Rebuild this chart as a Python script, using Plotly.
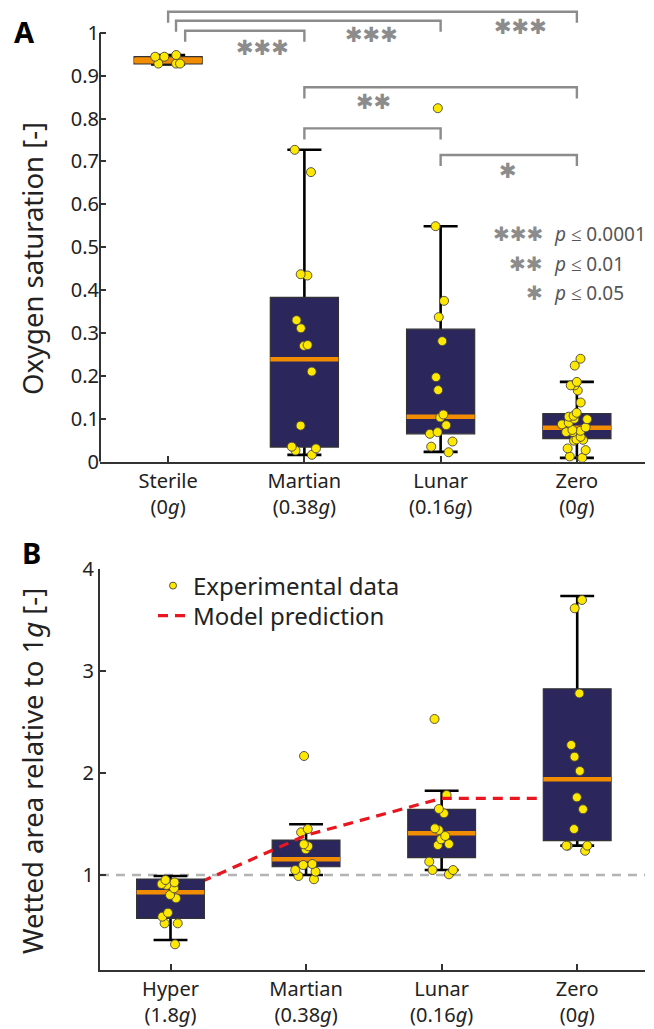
import plotly.graph_objects as go

W, H = 654, 1029

# ---------------- Panel A data (oxygen saturation) ----------------
a_labels = ["Sterile<br>(0<i>g</i>)", "Martian<br>(0.38<i>g</i>)",
            "Lunar<br>(0.16<i>g</i>)", "Zero<br>(0<i>g</i>)"]
a_positions = [1, 2, 3, 4]
a_sterile = [0.944, 0.944, 0.948, 0.928, 0.928, 0.928]
a_martian = [0.727, 0.675, 0.437, 0.434, 0.330, 0.311, 0.272, 0.270, 0.210,
             0.084, 0.035, 0.031, 0.026, 0.016]
a_lunar = [0.824, 0.549, 0.375, 0.337, 0.281, 0.197, 0.167, 0.110, 0.103,
           0.085, 0.069, 0.065, 0.047, 0.035, 0.022]
a_zero = [0.240, 0.224, 0.186, 0.178, 0.178, 0.166, 0.138, 0.114, 0.107,
          0.105, 0.099, 0.100, 0.091, 0.087, 0.080, 0.074, 0.072, 0.069,
          0.069, 0.058, 0.052, 0.051, 0.049, 0.031, 0.027, 0.012, 0.009]
a_lower = [0.926, 0.016, 0.023, 0.009]
a_q1 = [0.927, 0.034, 0.065, 0.054]
a_median = [0.935, 0.239, 0.105, 0.079]
a_q3 = [0.944, 0.383, 0.309, 0.112]
a_upper = [0.948, 0.727, 0.549, 0.186]
a_ticks = [0, 0.1, 0.2, 0.3, 0.4, 0.5, 0.6, 0.7, 0.8, 0.9, 1]
a_ticktext = ["0", "0.1", "0.2", "0.3", "0.4", "0.5", "0.6", "0.7", "0.8", "0.9", "1"]

# significance comparisons: (left, right, label)
sig_pairs = [(1, 4, "✱✱✱"), (1, 3, "✱✱✱"), (1, 2, "✱✱✱"),
             (2, 4, "✱✱"), (2, 3, ""), (3, 4, "✱")]
sig_legend = [("✱✱✱", "<i>p</i> ≤ 0.0001"), ("✱✱", "<i>p</i> ≤ 0.01"), ("✱", "<i>p</i> ≤ 0.05")]

# ---------------- Panel B data (wetted area) ----------------
b_labels = ["Hyper<br>(1.8<i>g</i>)", "Martian<br>(0.38<i>g</i>)",
            "Lunar<br>(0.16<i>g</i>)", "Zero<br>(0<i>g</i>)"]
b_positions = [1, 2, 3, 4]
b_hyper = [0.951, 0.928, 0.912, 0.902, 0.869, 0.804, 0.771, 0.630, 0.591,
           0.526, 0.526, 0.320]
b_martian = [2.168, 1.451, 1.419, 1.301, 1.282, 1.252, 1.108, 1.098, 1.049,
             1.033, 0.990, 0.958]
b_lunar = [2.531, 1.785, 1.648, 1.605, 1.458, 1.442, 1.383, 1.350, 1.304,
           1.294, 1.131, 1.049, 1.049, 1.007]
b_zero = [3.699, 3.617, 2.782, 2.276, 2.161, 2.021, 1.762, 1.645, 1.451,
          1.288, 1.288, 1.288, 1.238]
b_lower = [0.362, 1.000, 1.049, 1.288]
b_q1 = [0.575, 1.081, 1.170, 1.337]
b_median = [0.830, 1.154, 1.409, 1.939]
b_q3 = [0.961, 1.343, 1.645, 2.828]
b_upper = [0.990, 1.498, 1.827, 3.738]
b_model = [0.80, 1.39, 1.753, 1.752]
b_reference = 1.0
b_ticks = [1, 2, 3, 4]

# ---------------- styles ----------------
NAVY = "#2b275c"
ORANGE = "#f28c00"
YELLOW = "#ffe800"
GRAY = "#8c8c8c"
AX = "#333333"
TXT = "#222222"
FONT = "Noto Sans"
BOXW = 0.5


def px_x(p):
    return p / W


def px_y(p):
    return 1 - p / H


fig = go.Figure()


def add_box(xpos, lo, q1, med, q3, hi, pts, fill, xa, ya):
    common = dict(x=[xpos], width=BOXW, boxpoints=False, hoverinfo="skip",
                  showlegend=False, xaxis=xa, yaxis=ya)
    # whiskers with caps
    fig.add_trace(go.Box(q1=[med], median=[med], q3=[med], lowerfence=[lo],
                         upperfence=[hi], whiskerwidth=0.5,
                         line=dict(color="black", width=2.6),
                         fillcolor="rgba(0,0,0,0)", **common))
    # box body
    fig.add_trace(go.Box(q1=[q1], median=[med], q3=[q3], lowerfence=[q1],
                         upperfence=[q3], whiskerwidth=0,
                         line=dict(color=AX, width=1.2),
                         fillcolor=fill, **common))
    # median
    fig.add_trace(go.Box(q1=[med], median=[med], q3=[med], lowerfence=[med],
                         upperfence=[med], whiskerwidth=0,
                         line=dict(color=ORANGE, width=4.5),
                         fillcolor="rgba(0,0,0,0)", **common))
    # sample points (library jitter)
    fig.add_trace(go.Box(x=[xpos] * len(pts), y=pts, boxpoints="all",
                         jitter=0.45, pointpos=0, width=BOXW,
                         line=dict(color="rgba(0,0,0,0)", width=0),
                         fillcolor="rgba(0,0,0,0)",
                         marker=dict(color=YELLOW, size=9,
                                     line=dict(color="#444444", width=0.9)),
                         hoverinfo="skip", showlegend=False,
                         xaxis=xa, yaxis=ya))


# Panel A
a_samples = [a_sterile, a_martian, a_lunar, a_zero]
for i, pos in enumerate(a_positions):
    fill = ORANGE if i == 0 else NAVY
    add_box(pos, a_lower[i], a_q1[i], a_median[i], a_q3[i], a_upper[i],
            a_samples[i], fill, "x", "y")

# Panel B: Martian & Lunar under model line, Hyper & Zero on overlay above it
b_samples = [b_hyper, b_martian, b_lunar, b_zero]
for i, pos in enumerate(b_positions):
    xa, ya = ("x3", "y3") if i in (0, 3) else ("x2", "y2")
    add_box(pos, b_lower[i], b_q1[i], b_median[i], b_q3[i], b_upper[i],
            b_samples[i], NAVY, xa, ya)

fig.add_trace(go.Scatter(x=b_positions, y=b_model, mode="lines",
                         name="Model prediction",
                         line=dict(color="#e8161e", width=3.2, dash="10px,7px"),
                         xaxis="x2", yaxis="y2", legend="legend2",
                         hoverinfo="skip"))
fig.add_trace(go.Scatter(x=[None], y=[None], mode="markers",
                         name="Experimental data",
                         marker=dict(color=YELLOW, size=7,
                                     line=dict(color="#444444", width=0.9)),
                         xaxis="x2", yaxis="y2", legend="legend",
                         hoverinfo="skip"))

# ---------------- shapes ----------------
shapes = []
# panel A y-axis line only up to 1
shapes.append(dict(type="line", xref="x domain", yref="y", x0=0, x1=0,
                   y0=0, y1=1, line=dict(color=AX, width=2)))
# brackets
bracket_levels = [1.049, 1.028, 1.0047, 0.8727, 0.777, 0.715]
bracket_left_offset = [0.0, 0.058, 0.125, 0.0, 0.0, 0.0]
DROP = 0.026
for (l, r, _), top, off in zip(sig_pairs, bracket_levels, bracket_left_offset):
    xs = l + off
    shapes.append(dict(type="path", xref="x", yref="y",
                       path=f"M {xs},{top - DROP} L {xs},{top} L {r},{top} L {r},{top - DROP}",
                       line=dict(color=GRAY, width=2.4)))
# panel B reference line at 1
shapes.append(dict(type="line", xref="x2 domain", yref="y2", x0=0, x1=1,
                   y0=b_reference, y1=b_reference, layer="below",
                   line=dict(color="#b3b3b3", width=2.4, dash="9px,7px")))

# ---------------- annotations ----------------
ann = []
star_pos = [(3.588, 1.0126), (2.496, 0.9946), (1.696, 0.965),
            (2.504, 0.839), None, (3.495, 0.678)]
for (l, r, lab), sp in zip(sig_pairs, star_pos):
    if lab and sp:
        ann.append(dict(x=sp[0], y=sp[1], xref="x", yref="y", text=lab,
                        showarrow=False, xanchor="center", yanchor="middle",
                        font=dict(family="DejaVu Sans", size=21, color=GRAY)))
leg_rows = [234, 264, 293]
for (st, tx), yy in zip(sig_legend, leg_rows):
    ann.append(dict(x=px_x(545), y=px_y(yy), xref="paper", yref="paper", text=st,
                    showarrow=False, xanchor="right", yanchor="middle",
                    font=dict(family="DejaVu Sans", size=20, color=GRAY)))
    ann.append(dict(x=px_x(552), y=px_y(yy), xref="paper", yref="paper", text=tx,
                    showarrow=False, xanchor="left", yanchor="middle",
                    font=dict(family=FONT, size=19, color="#555555")))
# axis titles
ann.append(dict(x=px_x(32), y=px_y(259), xref="paper", yref="paper",
                text="Oxygen saturation [-]", textangle=-90, showarrow=False,
                xanchor="center", yanchor="middle",
                font=dict(family=FONT, size=27.5, color=TXT)))
ann.append(dict(x=px_x(32), y=px_y(771), xref="paper", yref="paper",
                text="Wetted area relative to 1<i>g</i> [-]", textangle=-90,
                showarrow=False, xanchor="center", yanchor="middle",
                font=dict(family=FONT, size=27.5, color=TXT)))
# panel letters
ann.append(dict(x=px_x(24.5), y=px_y(31), xref="paper", yref="paper",
                text="<b>A</b>", showarrow=False, xanchor="center", yanchor="middle",
                font=dict(family=FONT, size=29, color="black")))
ann.append(dict(x=px_x(31), y=px_y(552), xref="paper", yref="paper",
                text="<b>B</b>", showarrow=False, xanchor="center", yanchor="middle",
                font=dict(family=FONT, size=29, color="black")))

axis_common = dict(showgrid=False, zeroline=False, ticks="inside", ticklen=6,
                   tickwidth=1.6, tickcolor=AX, linecolor=AX, linewidth=2,
                   automargin=False,
                   tickfont=dict(family=FONT, size=20, color=TXT))

xdom = [px_x(100), px_x(645)]
a_dom = [px_y(461.7), 1.0]
b_dom = [px_y(970), px_y(569.3)]

fig.update_layout(
    width=W, height=H, margin=dict(l=0, r=0, t=0, b=0, pad=0, autoexpand=False),
    paper_bgcolor="white", plot_bgcolor="rgba(0,0,0,0)",
    font=dict(family=FONT, color=TXT),
    boxmode="overlay",
    xaxis=dict(domain=xdom, range=[0.5, 4.5], tickvals=a_positions,
               ticktext=a_labels, showline=True, anchor="y", **axis_common),
    yaxis=dict(domain=a_dom, range=[0, 461.7 / 429], tickvals=a_ticks,
               ticktext=a_ticktext, showline=False, anchor="x", **axis_common),
    xaxis2=dict(domain=xdom, range=[0.48, 4.5], tickvals=b_positions,
                ticktext=b_labels, showline=True, anchor="y2", **axis_common),
    yaxis2=dict(domain=b_dom, range=[0.068, 4.0], tickvals=b_ticks,
                showline=True, anchor="x2", **axis_common),
    xaxis3=dict(overlaying="x2", range=[0.48, 4.5], visible=False, anchor="y3"),
    yaxis3=dict(overlaying="y2", range=[0.068, 4.0], visible=False, anchor="x3"),
    legend=dict(x=px_x(153), y=px_y(586), xanchor="left", yanchor="middle",
                bgcolor="rgba(0,0,0,0)", font=dict(family=FONT, size=24, color=TXT)),
    legend2=dict(x=px_x(153), y=px_y(616), xanchor="left", yanchor="middle",
                 bgcolor="rgba(0,0,0,0)", font=dict(family=FONT, size=24, color=TXT)),
    shapes=shapes, annotations=ann,
)

fig.write_html(
    "out.html",
    config={"displayModeBar": False},
    post_script="document.documentElement.style.margin='0';"
                "document.body.style.margin='0';document.body.style.padding='0';"
                "document.body.style.overflow='hidden';",
)
